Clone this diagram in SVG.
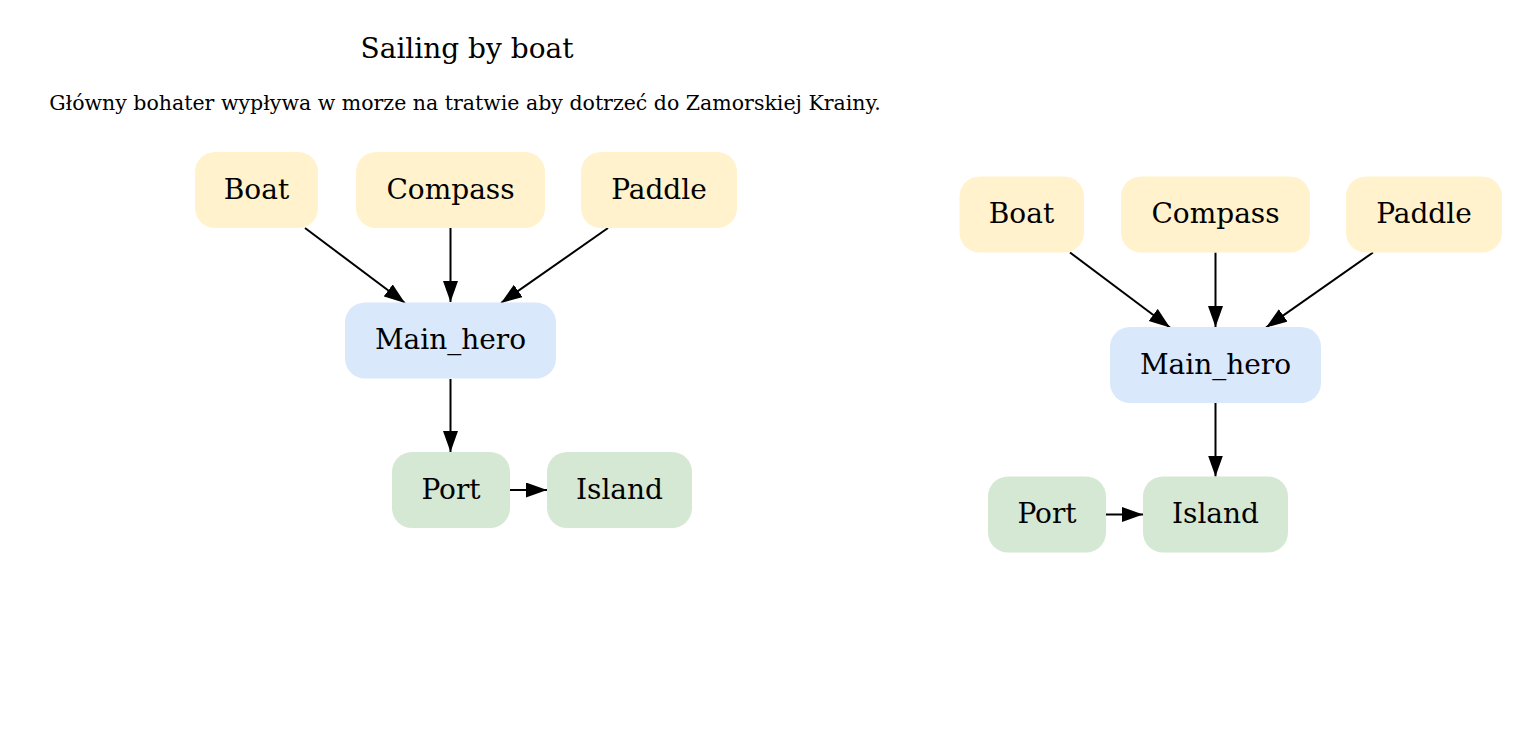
<svg xmlns="http://www.w3.org/2000/svg" width="1529" height="731" viewBox="0 0 1529 731">
<style>
text{font-family:"DejaVu Serif","Liberation Serif",serif;fill:#000;text-anchor:middle}
.n{font-size:28px}
.y{fill:#fff2cc}
.b{fill:#dae8fc}
.g{fill:#d5e8d4}
.e{stroke:#000;stroke-width:2;fill:none;marker-end:url(#ah)}
</style>
<defs>
<marker id="ah" markerUnits="userSpaceOnUse" markerWidth="22" markerHeight="16" refX="21" refY="7.5" orient="auto" viewBox="0 0 22 16">
<path d="M0,0 L21,7.5 L0,15 z" fill="#000"/>
</marker>
</defs>
<rect width="1529" height="731" fill="#fff"/>
<g id="title">
<text x="467" y="58" style="font-size:28px">Sailing by boat</text>
<text x="465" y="110" style="font-size:20.5px">Główny bohater wypływa w morze na tratwie aby dotrzeć do Zamorskiej Krainy.</text>
</g>
<g id="connectors">
<line class="e" x1="305" y1="228" x2="405" y2="303"/>
<line class="e" x1="450.5" y1="228" x2="450.5" y2="302"/>
<line class="e" x1="608" y1="228" x2="501" y2="303"/>
<line class="e" x1="450.5" y1="379" x2="450.5" y2="452"/>
<line class="e" x1="510" y1="490" x2="547" y2="490"/>
<line class="e" x1="1070" y1="252.5" x2="1170" y2="327.5"/>
<line class="e" x1="1215.5" y1="252.5" x2="1215.5" y2="327"/>
<line class="e" x1="1373" y1="252.5" x2="1266" y2="327.5"/>
<line class="e" x1="1215.5" y1="403" x2="1215.5" y2="476.5"/>
<line class="e" x1="1106" y1="514.5" x2="1143" y2="514.5"/>
</g>
<g id="l_boat"><rect class="y" x="195" y="152" width="123" height="76" rx="20"/><text class="n" x="256.5" y="198.5">Boat</text></g>
<g id="l_compass"><rect class="y" x="356" y="152" width="189" height="76" rx="20"/><text class="n" x="450.5" y="198.5">Compass</text></g>
<g id="l_paddle"><rect class="y" x="581" y="152" width="156" height="76" rx="20"/><text class="n" x="659" y="198.5">Paddle</text></g>
<g id="l_main_hero"><rect class="b" x="345" y="302.5" width="211" height="76" rx="20"/><text class="n" x="450.5" y="349">Main_hero</text></g>
<g id="l_port"><rect class="g" x="392" y="452" width="118" height="76" rx="20"/><text class="n" x="451" y="498.5">Port</text></g>
<g id="l_island"><rect class="g" x="547" y="452" width="145" height="76" rx="20"/><text class="n" x="619.5" y="498.5">Island</text></g>
<g id="r_boat"><rect class="y" x="959.5" y="176.5" width="124.5" height="76" rx="20"/><text class="n" x="1021.5" y="223">Boat</text></g>
<g id="r_compass"><rect class="y" x="1121" y="176.5" width="189" height="76" rx="20"/><text class="n" x="1215.5" y="223">Compass</text></g>
<g id="r_paddle"><rect class="y" x="1346" y="176.5" width="156" height="76" rx="20"/><text class="n" x="1424" y="223">Paddle</text></g>
<g id="r_main_hero"><rect class="b" x="1110" y="327" width="211" height="76" rx="20"/><text class="n" x="1215.5" y="373.5">Main_hero</text></g>
<g id="r_port"><rect class="g" x="988" y="476.5" width="118" height="76" rx="20"/><text class="n" x="1047" y="523">Port</text></g>
<g id="r_island"><rect class="g" x="1143" y="476.5" width="145" height="76" rx="20"/><text class="n" x="1215.5" y="523">Island</text></g>
</svg>
